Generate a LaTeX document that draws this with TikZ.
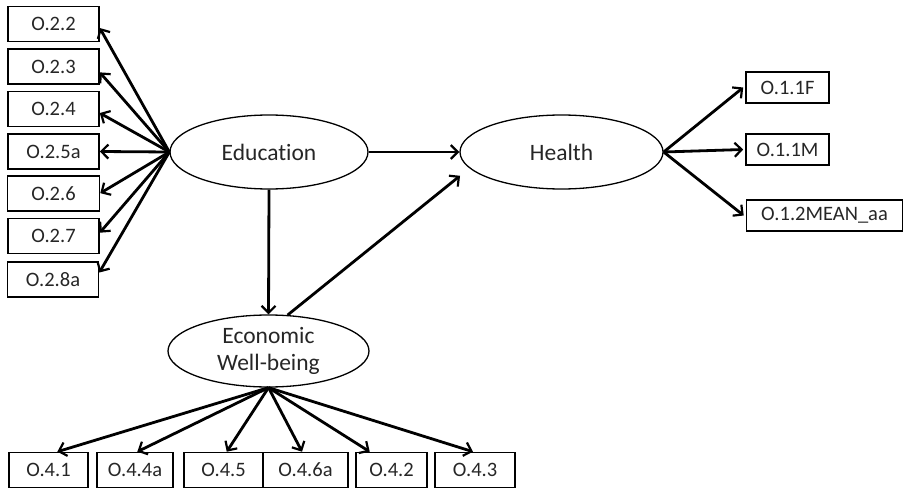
\documentclass[tikz,border=0pt]{standalone}
\usepackage{fontspec}
\setmainfont{Carlito}[Ligatures=NoCommon]
\usetikzlibrary{arrows.meta,calc,shapes.geometric}
\begin{document}
\begin{tikzpicture}[x=1pt,y=-1pt,
  obsbox/.style={draw=black,line width=1.6pt,rectangle,inner sep=0pt,minimum height=35pt,font=\fontsize{20.5}{22}\selectfont,text=black!85},
  latent/.style={draw=black,line width=1.3pt,ellipse,inner sep=0pt,font=\fontsize{23.5}{27}\selectfont,text=black!85,align=center},
  arr/.style={line width=2.8pt,-{Straight Barb[length=7pt,width=14pt,line width=2.2pt]}}
]
\useasboundingbox (0,0) rectangle (904,489);
% latent variables
\node[latent,minimum width=198pt,minimum height=74pt] (edu) at (269,152) {Education};
\node[latent,minimum width=203pt,minimum height=74pt] (hea) at (561.5,152) {Health};
\node[latent,minimum width=201pt,minimum height=72pt] (eco) at (268.5,351) {Economic\\Well-being};
% left boxes
\node[obsbox,minimum width=91pt] (a1) at (53.5,24) {O.2.2};
\node[obsbox,minimum width=91pt] (a2) at (53.5,66.5) {O.2.3};
\node[obsbox,minimum width=91pt] (a3) at (53.5,109) {O.2.4};
\node[obsbox,minimum width=91pt] (a4) at (53.5,151.5) {O.2.5a};
\node[obsbox,minimum width=92pt] (a5) at (53.5,193.5) {O.2.6};
\node[obsbox,minimum width=91pt] (a6) at (53.5,236) {O.2.7};
\node[obsbox,minimum width=91pt] (a7) at (53,279.5) {O.2.8a};
% right boxes
\node[obsbox,minimum width=83pt,minimum height=31pt] (h1) at (787.5,87.5) {O.1.1F};
\node[obsbox,minimum width=83pt,minimum height=31pt] (h2) at (787.5,149.5) {O.1.1M};
\node[obsbox,minimum width=156pt,minimum height=31pt] (h3) at (824.5,215.5) {O.1.2MEAN\_aa};
% bottom boxes
\node[obsbox,minimum width=79pt,minimum height=35pt] (e1) at (48.5,470) {O.4.1};
\node[obsbox,minimum width=76pt,minimum height=35pt] (e2) at (135,470) {O.4.4a};
\node[obsbox,minimum width=79pt,minimum height=35pt] (e3) at (223.5,470) {O.4.5};
\node[obsbox,minimum width=85pt,minimum height=35pt] (e4) at (305.5,470) {O.4.6a};
\node[obsbox,minimum width=71pt,minimum height=35pt] (e5) at (391.5,470) {O.4.2};
\node[obsbox,minimum width=80pt,minimum height=35pt] (e6) at (475,470) {O.4.3};
% education indicators
\draw[arr] (edu.west) -- ($(a1.north east)!0.61!(a1.south east)$);
\draw[arr] (edu.west) -- ($(a2.north east)!0.66!(a2.south east)$);
\draw[arr] (edu.west) -- ($(a3.north east)!0.61!(a3.south east)$);
\draw[arr] (edu.west) -- ($(a4.north east)!0.5!(a4.south east)$);
\draw[arr] (edu.west) -- ($(a5.north east)!0.49!(a5.south east)$);
\draw[arr] (edu.west) -- ($(a6.north east)!0.41!(a6.south east)$);
\draw[arr] (edu.west) -- ($(a7.north east)!0.31!(a7.south east)$);
% health indicators
\draw[arr] (hea.east) -- ($(h1.north west)!0.5!(h1.south west)+(-2,0)$);
\draw[arr] (hea.east) -- ($(h2.west)+(-2,0)$);
\draw[arr] (hea.east) -- ($(h3.west)+(-2,0)$);
% economic indicators
\draw[arr] (eco.south) -- ($(e1.north west)!0.61!(e1.north east)$);
\draw[arr] (eco.south) -- ($(e2.north west)!0.53!(e2.north east)$);
\draw[arr] (eco.south) -- ($(e3.north west)!0.54!(e3.north east)$);
\draw[arr] (eco.south) -- ($(e4.north west)!0.46!(e4.north east)$);
\draw[arr] (eco.south) -- ($(e5.north west)!0.2!(e5.north east)$);
\draw[arr] (eco.south) -- ($(e6.north west)!0.475!(e6.north east)$);
% structural paths
\draw[arr] (edu.east) -- (hea.west);
\draw[arr] (edu.south) -- (eco.north);
\draw[arr,shorten >=12pt] (eco.62) -- (hea.190);
\end{tikzpicture}
\end{document}
